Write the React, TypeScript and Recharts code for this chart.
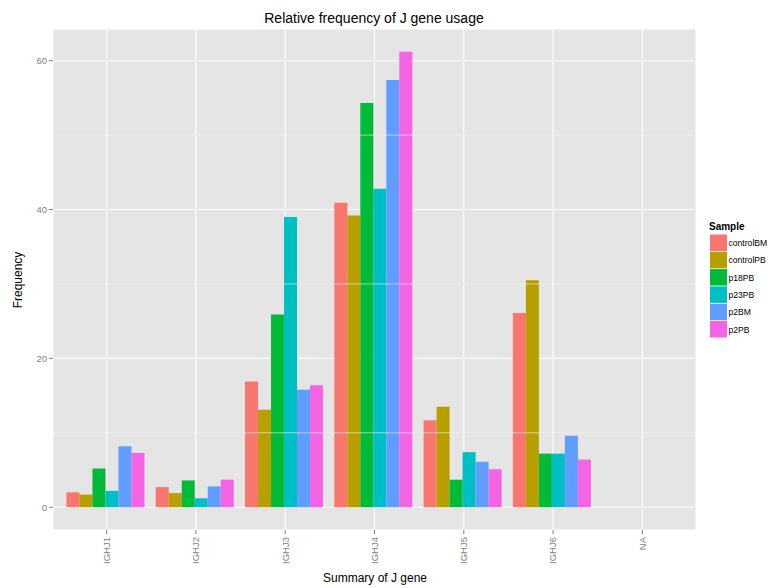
import React from 'react';
import { BarChart, Bar, XAxis, YAxis, CartesianGrid, ReferenceLine } from 'recharts';

const categories = ['IGHJ1', 'IGHJ2', 'IGHJ3', 'IGHJ4', 'IGHJ5', 'IGHJ6', 'NA'];
const controlBM = [2.0, 2.7, 16.9, 40.9, 11.7, 26.1, null];
const controlPB = [1.7, 1.9, 13.1, 39.2, 13.5, 30.5, null];
const p18PB = [5.2, 3.6, 25.9, 54.3, 3.7, 7.2, null];
const p23PB = [2.2, 1.2, 39.0, 42.8, 7.4, 7.2, null];
const p2BM = [8.2, 2.8, 15.8, 57.4, 6.1, 9.6, null];
const p2PB = [7.3, 3.7, 16.4, 61.2, 5.1, 6.4, null];

const seriesNames = ['controlBM', 'controlPB', 'p18PB', 'p23PB', 'p2BM', 'p2PB'];
const seriesValues = [controlBM, controlPB, p18PB, p23PB, p2BM, p2PB];
const seriesColors = ['#F8766D', '#B79F00', '#00BA38', '#00BFC4', '#619CFF', '#F564E3'];

const yTicks = [0, 20, 40, 60];
const yMinorTicks = [10, 30, 50];
const yDomain = [-3.06, 64.26];

const data = categories.map((c, i) => {
  const row: Record<string, any> = { category: c };
  seriesNames.forEach((s, j) => {
    row[s] = seriesValues[j][i];
  });
  return row;
});

const FONT = '"Liberation Sans", Arial, Helvetica, sans-serif';

const XTick = (props: any) => {
  const { x, y, payload } = props;
  return (
    <text
      x={x}
      y={y}
      transform={`rotate(-90 ${x} ${y})`}
      textAnchor="end"
      dy="0.35em"
      fill="#7F7F7F"
      fontSize={9.5}
      fontFamily={FONT}
    >
      {payload.value}
    </text>
  );
};

export default function App() {
  return (
    <div style={{ position: 'absolute', left: 0, top: 0, width: 768, height: 588, background: '#fff' }}>
      <BarChart
        width={768}
        height={588}
        data={data}
        margin={{ top: 29, right: 72, left: 0, bottom: 0 }}
        barCategoryGap="5%"
        barGap={0}
      >
        <CartesianGrid fill="#E5E5E5" stroke="#FFFFFF" strokeWidth={1.1} />
        {yMinorTicks.map((v) => (
          <ReferenceLine key={v} y={v} stroke="#F2F2F2" strokeWidth={0.6} ifOverflow="hidden" />
        ))}
        <XAxis
          dataKey="category"
          height={58}
          padding={{ left: 9, right: 9 }}
          axisLine={false}
          tickLine={{ stroke: '#7F7F7F' }}
          tickSize={4}
          tickMargin={3}
          interval={0}
          tick={<XTick />}
        />
        <YAxis
          width={53}
          domain={yDomain}
          ticks={yTicks}
          allowDataOverflow
          axisLine={false}
          tickLine={{ stroke: '#7F7F7F' }}
          tickSize={4}
          tickMargin={2}
          tick={{ fill: '#7F7F7F', fontSize: 9.5, fontFamily: FONT }}
        />
        {seriesNames.map((s, j) => (
          <Bar key={s} dataKey={s} fill={seriesColors[j]} isAnimationActive={false} />
        ))}
      </BarChart>
      <svg
        width={768}
        height={588}
        style={{ position: 'absolute', left: 0, top: 0, pointerEvents: 'none' }}
      >
        <text x={374} y={23} textAnchor="middle" fontSize={14} fontFamily={FONT} fill="#000">
          Relative frequency of J gene usage
        </text>
        <text x={375} y={582} textAnchor="middle" fontSize={12} fontFamily={FONT} fill="#000">
          Summary of J gene
        </text>
        <text
          x={22}
          y={280}
          textAnchor="middle"
          transform="rotate(-90 22 280)"
          fontSize={12}
          fontFamily={FONT}
          fill="#000"
        >
          Frequency
        </text>
        <text x={709} y={230} fontSize={10} fontWeight="bold" fontFamily={FONT} fill="#000">
          Sample
        </text>
        {seriesNames.map((s, j) => (
          <g key={s}>
            <rect x={710} y={234.5 + j * 17.3} width={17} height={16.5} fill={seriesColors[j]} />
            <text x={728.5} y={234.5 + j * 17.3 + 11.5} fontSize={8.6} fontFamily={FONT} fill="#000">
              {s}
            </text>
          </g>
        ))}
      </svg>
    </div>
  );
}
